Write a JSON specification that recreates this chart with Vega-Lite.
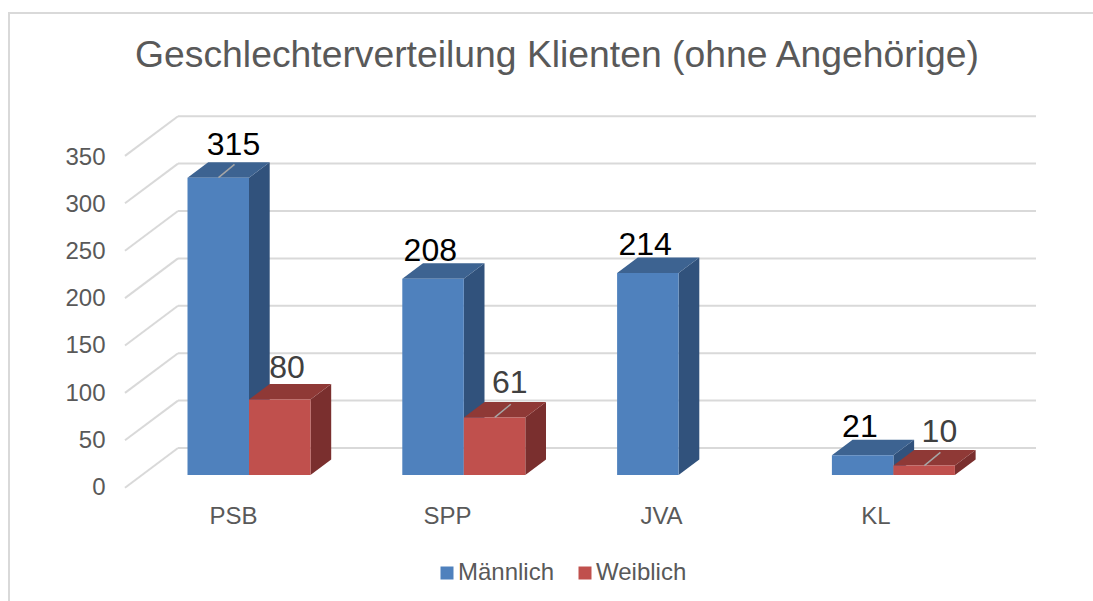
{
"$schema":"https://vega.github.io/schema/vega-lite/v6.json",
"width":1093,"height":601,"padding":0,"autosize":{"type":"none"},
"background":"white",
"view":{"stroke":null},
"title":{"text":"Geschlechterverteilung Klienten (ohne Angehörige)","font":"Liberation Sans","fontSize":37.3,"fontWeight":"normal","color":"#595959","anchor":"middle","baseline":"alphabetic","offset":-104,"dx":10.5},
"config":{"font":"Liberation Sans"},
"datasets":{
"werte":[
{"Kategorie":"PSB","Geschlecht":"Männlich","Wert":315},
{"Kategorie":"SPP","Geschlecht":"Männlich","Wert":208},
{"Kategorie":"JVA","Geschlecht":"Männlich","Wert":214},
{"Kategorie":"KL","Geschlecht":"Männlich","Wert":21},
{"Kategorie":"PSB","Geschlecht":"Weiblich","Wert":80},
{"Kategorie":"SPP","Geschlecht":"Weiblich","Wert":61},
{"Kategorie":"KL","Geschlecht":"Weiblich","Wert":10}
],
"raster":[{"tick":0},{"tick":50},{"tick":100},{"tick":150},{"tick":200},{"tick":250},{"tick":300},{"tick":350}]
},
"data":{"name":"werte"},
"transform":[
{"calculate":"187.5+214.8*indexof(['PSB','SPP','JVA','KL'],datum.Kategorie)+(datum.Geschlecht==='Weiblich'?61.5:0)","as":"x0"},
{"calculate":"datum.x0+61.5","as":"x1"}
],
"layer":[
{"data":{"values":[{"a":1}]},"transform":[],"mark":{"type":"rule","color":"#d9d9d9","strokeWidth":2},
 "encoding":{"x":{"datum":9,"type":"quantitative","scale":{"domain":[0,1093],"range":[0,1093],"nice":false,"zero":false},
   "axis":{"values":[233,447,661,875.5],"labelExpr":"['PSB','SPP','JVA','KL'][round((datum.value-233)/214)]","title":null,"grid":false,"domain":false,"ticks":false,"labelAngle":0,"labelFontSize":24,"labelColor":"#595959","labelPadding":0,"offset":-97,"labelFlush":false,"labelOverlap":false}},
  "y":{"datum":489,"type":"quantitative","scale":{"domain":[-133.47,503.18],"nice":false,"zero":false},
   "axis":{"values":[0,50,100,150,200,250,300,350],"title":null,"grid":false,"domain":false,"ticks":false,"labelFontSize":24,"labelColor":"#595959","labelPadding":0,"offset":-105,"labelOffset":12.5}},
  "y2":{"datum":-133.47}}},
{"data":{"values":[{"a":1}]},"transform":[],"mark":{"type":"rule","color":"#d9d9d9","strokeWidth":2},
 "encoding":{"x":{"datum":8},"x2":{"datum":1093},"y":{"datum":489.4}}},
{"data":{"name":"raster"},"transform":[{"calculate":"datum.tick*1.0042+28.6","as":"hinten"},{"calculate":"datum.tick*1.0042-13.46","as":"vorn"}],
 "mark":{"type":"rule","color":"#d9d9d9","strokeWidth":2},
 "encoding":{"x":{"datum":178},"x2":{"datum":1036},"y":{"field":"hinten","type":"quantitative"}}},
{"data":{"name":"raster"},"transform":[{"calculate":"datum.tick*1.0042+28.6","as":"hinten"},{"calculate":"datum.tick*1.0042-13.46","as":"vorn"}],
 "mark":{"type":"rule","color":"#d9d9d9","strokeWidth":2},
 "encoding":{"x":{"datum":125},"x2":{"datum":178},"y":{"field":"vorn","type":"quantitative"},"y2":{"field":"hinten"}}},
{"transform":[{"filter":"datum.Geschlecht==='Männlich'"},{"calculate":"[0,1]","as":"t"},{"flatten":["t"]},{"calculate":"datum.x1+datum.t*20.7","as":"sx"},{"calculate":"datum.Wert+datum.t*16.4","as":"so"},{"calculate":"datum.t*16.4","as":"su"}],
 "mark":{"type":"area","orient":"vertical","color":"#31527c"},
 "encoding":{"x":{"field":"sx","type":"quantitative"},"y":{"field":"so","type":"quantitative","stack":null},"y2":{"field":"su"},"detail":{"field":"Kategorie"}}},
{"transform":[{"filter":"datum.Geschlecht==='Männlich'"},{"calculate":"[0,1]","as":"t"},{"flatten":["t"]},{"calculate":"datum.x0+datum.t*20.7","as":"ta"},{"calculate":"datum.x1+datum.t*20.7","as":"tb"},{"calculate":"datum.Wert+datum.t*16.4","as":"so"}],
 "mark":{"type":"area","orient":"horizontal","color":"#3d6391"},
 "encoding":{"y":{"field":"so","type":"quantitative"},"x":{"field":"ta","type":"quantitative","stack":null},"x2":{"field":"tb"},"detail":{"field":"Kategorie"}}},
{"transform":[{"filter":"datum.Geschlecht==='Weiblich'"},{"calculate":"[0,1]","as":"t"},{"flatten":["t"]},{"calculate":"datum.x1+datum.t*20.7","as":"sx"},{"calculate":"datum.Wert+datum.t*16.4","as":"so"},{"calculate":"datum.t*16.4","as":"su"}],
 "mark":{"type":"area","orient":"vertical","color":"#7a2f2e"},
 "encoding":{"x":{"field":"sx","type":"quantitative"},"y":{"field":"so","type":"quantitative","stack":null},"y2":{"field":"su"},"detail":{"field":"Kategorie"}}},
{"transform":[{"filter":"datum.Geschlecht==='Weiblich'"},{"calculate":"[0,1]","as":"t"},{"flatten":["t"]},{"calculate":"datum.x0+datum.t*20.7","as":"ta"},{"calculate":"datum.x1+datum.t*20.7","as":"tb"},{"calculate":"datum.Wert+datum.t*16.4","as":"so"}],
 "mark":{"type":"area","orient":"horizontal","color":"#8f3936"},
 "encoding":{"y":{"field":"so","type":"quantitative"},"x":{"field":"ta","type":"quantitative","stack":null},"x2":{"field":"tb"},"detail":{"field":"Kategorie"}}},
{"mark":{"type":"bar"},
 "encoding":{"x":{"field":"x0","type":"quantitative"},"x2":{"field":"x1"},"y":{"field":"Wert","type":"quantitative","stack":null},"y2":{"datum":0},
  "color":{"field":"Geschlecht","type":"nominal","scale":{"domain":["Männlich","Weiblich"],"range":["#4f81bd","#c0504d"]},
   "legend":{"title":null,"orient":"none","legendX":435,"legendY":561,"direction":"horizontal","columns":2,"symbolType":"square","symbolSize":169,"symbolStrokeWidth":0,"symbolOpacity":1,"labelFontSize":24,"labelColor":"#595959","labelOffset":-1,"columnPadding":18}}}},
{"transform":[{"filter":"datum.Wert===315||datum.Wert===61||datum.Wert===10"},{"calculate":"datum.x0+31","as":"la"},{"calculate":"datum.x0+47","as":"lb"},{"calculate":"datum.Wert+14","as":"lo"}],
 "mark":{"type":"rule","color":"#a6a6a6","strokeWidth":1.5},
 "encoding":{"x":{"field":"la","type":"quantitative"},"x2":{"field":"lb"},"y":{"field":"Wert","type":"quantitative","stack":null},"y2":{"field":"lo"}}},
{"transform":[{"filter":"datum.Wert===315"}],
 "mark":{"type":"text","font":"Liberation Sans","fontSize":32,"color":"#000000","align":"center","baseline":"alphabetic","dx":46,"dy":-23},
 "encoding":{"x":{"field":"x0","type":"quantitative"},"y":{"field":"Wert","type":"quantitative","stack":null},"text":{"field":"Wert","type":"quantitative"}}},
{"transform":[{"filter":"datum.Geschlecht==='Männlich'&&datum.Wert!==315"}],
 "mark":{"type":"text","font":"Liberation Sans","fontSize":32,"color":"#000000","align":"center","baseline":"alphabetic","dx":28,"dy":-18},
 "encoding":{"x":{"field":"x0","type":"quantitative"},"y":{"field":"Wert","type":"quantitative","stack":null},"text":{"field":"Wert","type":"quantitative"}}},
{"transform":[{"filter":"datum.Wert===80"}],
 "mark":{"type":"text","font":"Liberation Sans","fontSize":32,"color":"#404040","align":"center","baseline":"alphabetic","dx":38,"dy":-21},
 "encoding":{"x":{"field":"x0","type":"quantitative"},"y":{"field":"Wert","type":"quantitative","stack":null},"text":{"field":"Wert","type":"quantitative"}}},
{"transform":[{"filter":"datum.Wert===61||datum.Wert===10"}],
 "mark":{"type":"text","font":"Liberation Sans","fontSize":32,"color":"#404040","align":"center","baseline":"alphabetic","dx":46,"dy":-24},
 "encoding":{"x":{"field":"x0","type":"quantitative"},"y":{"field":"Wert","type":"quantitative","stack":null},"text":{"field":"Wert","type":"quantitative"}}}
]
}
